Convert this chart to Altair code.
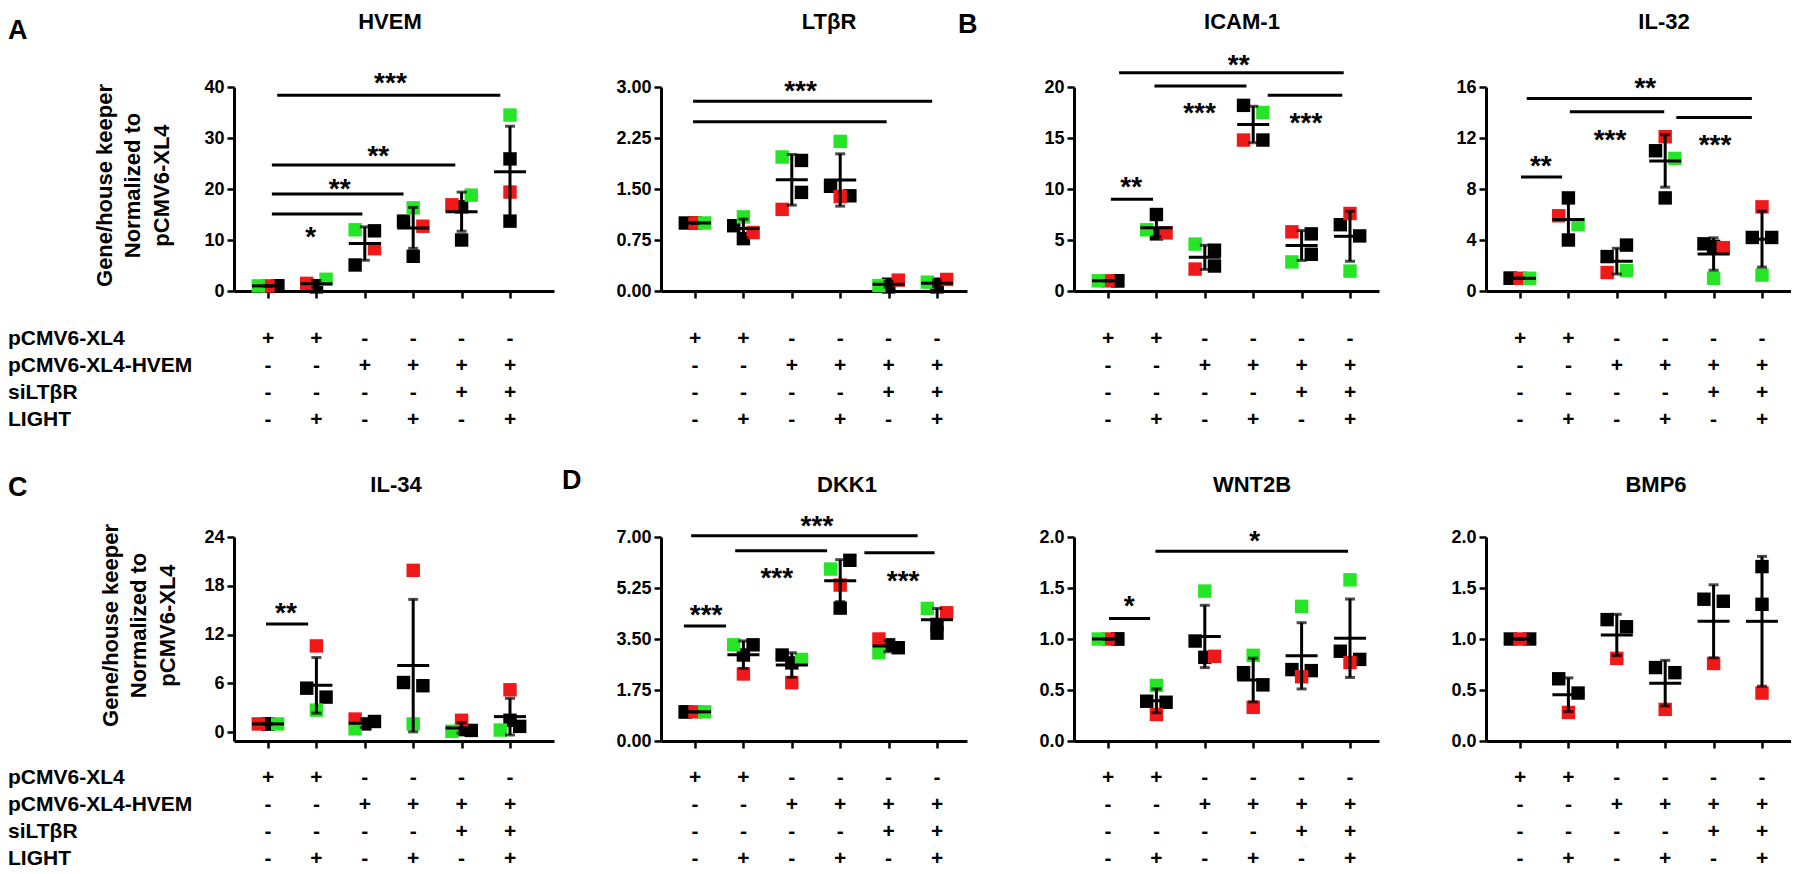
import altair as alt
import pandas as pd

# ---------------------------------------------------------------- data
GENES = ["HVEM", "LTβR", "ICAM-1", "IL-32", "IL-34", "DKK1", "WNT2B", "BMP6"]
GROUPS = [0, 1, 2, 3, 4, 5]

ROW_NAMES = ["pCMV6-XL4", "pCMV6-XL4-HVEM", "siLTβR", "LIGHT"]
PCMV = ["+", "+", "-", "-", "-", "-"]
PCMV_HVEM = ["-", "-", "+", "+", "+", "+"]
SILTBR = ["-", "-", "-", "-", "+", "+"]
LIGHT = ["-", "+", "-", "+", "-", "+"]

# replicate values per group: two black, one red, one green replicate
# *_COL: column of the square inside its group (L / C / R)
HVEM_K1 = [1.0, 1.0, 11.8, 13.7, 16.5, 25.9]
HVEM_K2 = [1.0, 0.8, 5.1, 6.8, 10.0, 13.7]
HVEM_R = [1.0, 1.5, 8.3, 12.7, 16.9, 19.4]
HVEM_G = [1.0, 2.3, 12.0, 16.3, 18.8, 34.5]
HVEM_K1_COL, HVEM_K2_COL, HVEM_R_COL, HVEM_G_COL = "RCRLCC", "RCLCCC", "CLRRLC", "LRLCRC"

LTBR_K1 = [1.0, 0.96, 1.92, 1.54, 0.06, 0.06]
LTBR_K2 = [1.0, 0.77, 1.45, 1.40, 0.10, 0.10]
LTBR_R = [1.0, 0.86, 1.20, 1.39, 0.16, 0.17]
LTBR_G = [1.0, 1.09, 1.97, 2.20, 0.08, 0.13]
LTBR_K1_COL, LTBR_K2_COL, LTBR_R_COL, LTBR_G_COL = "LLRLCC", "CCRRCC", "CRLCRR", "RCLCLL"

ICAM_K1 = [1.0, 7.5, 2.45, 18.2, 5.6, 6.5]
ICAM_K2 = [1.0, 5.6, 4.0, 14.8, 3.6, 5.4]
ICAM_R = [1.0, 5.7, 2.15, 14.8, 5.8, 7.6]
ICAM_G = [1.0, 6.0, 4.6, 17.5, 2.85, 1.95]
ICAM_K1_COL, ICAM_K2_COL, ICAM_R_COL, ICAM_G_COL = "RCRLRL", "RCRRRR", "CRLLLC", "LLLRLC"

IL32_K1 = [1.0, 7.3, 2.7, 11.0, 3.7, 4.2]
IL32_K2 = [1.0, 4.0, 3.6, 7.3, 3.5, 4.2]
IL32_R = [1.0, 5.9, 1.45, 12.1, 3.4, 6.6]
IL32_G = [1.0, 5.2, 1.6, 10.4, 1.0, 1.25]
IL32_K1_COL, IL32_K2_COL, IL32_R_COL, IL32_G_COL = "LCLLLL", "LCRCCR", "CLLCRC", "RRRRCC"

IL34_K1 = [1.0, 5.4, 1.0, 6.1, 0.3, 1.45]
IL34_K2 = [1.0, 4.3, 1.3, 5.7, 0.2, 0.7]
IL34_R = [1.0, 10.6, 1.6, 19.9, 1.45, 5.2]
IL34_G = [1.0, 2.7, 0.4, 1.0, 0.1, 0.25]
IL34_K1_COL, IL34_K2_COL, IL34_R_COL, IL34_G_COL = "CLCLCC", "CRRRRR", "LCLCCC", "RCLCLL"

DKK1_K1 = [1.0, 2.95, 2.95, 6.2, 3.3, 4.0]
DKK1_K2 = [1.0, 3.3, 2.68, 4.56, 3.2, 3.7]
DKK1_R = [1.0, 2.3, 2.0, 5.35, 3.5, 4.4]
DKK1_G = [1.0, 3.3, 2.8, 5.9, 3.03, 4.55]
DKK1_K1_COL, DKK1_K2_COL, DKK1_R_COL, DKK1_G_COL = "LCLRCC", "LRCCRC", "CCCCLR", "RLRLLL"

WNT2B_K1 = [1.0, 0.39, 0.98, 0.67, 0.70, 0.88]
WNT2B_K2 = [1.0, 0.38, 0.82, 0.55, 0.69, 0.80]
WNT2B_R = [1.0, 0.26, 0.83, 0.33, 0.63, 0.77]
WNT2B_G = [1.0, 0.545, 1.47, 0.84, 1.32, 1.58]
WNT2B_K1_COL, WNT2B_K2_COL, WNT2B_R_COL, WNT2B_G_COL = "RLLLLL", "RRCRRR", "CCRCCC", "LCCCCC"

BMP6_K1 = [1.0, 0.61, 1.19, 0.72, 1.39, 1.71]
BMP6_K2 = [1.0, 0.47, 1.12, 0.67, 1.37, 1.34]
BMP6_R = [1.0, 0.28, 0.81, 0.31, 0.76, 0.47]
BMP6_K1_COL, BMP6_K2_COL, BMP6_R_COL = "LLLLLC", "RRRRRC", "CCCCCC"

# significance bars (from group, to group, height) and star labels (group, height, text)
HVEM_BARS = [(0.08, 1.95, 15.1), (0.08, 2.8, 19.0), (0.08, 3.87, 24.7), (0.19, 4.8, 38.4)]
HVEM_STARS = [(0.88, 12.0, "*"), (1.48, 21.4, "**"), (2.28, 27.8, "**"), (2.53, 42.2, "***")]
LTBR_BARS = [(-0.04, 4.9, 2.79), (-0.04, 3.96, 2.49)]
LTBR_STARS = [(2.18, 3.05, "***")]
ICAM_BARS = [(0.06, 0.93, 9.0), (0.96, 2.86, 20.1), (3.3, 4.84, 19.2), (0.23, 4.87, 21.4)]
ICAM_STARS = [(0.48, 10.9, "**"), (1.89, 18.1, "***"), (4.09, 17.2, "***"), (2.7, 22.8, "**")]
IL32_BARS = [(0.02, 0.87, 8.95), (1.03, 2.98, 14.05), (3.23, 4.79, 13.6), (0.14, 4.79, 15.1)]
IL32_STARS = [(0.43, 10.35, "**"), (1.86, 12.4, "***"), (4.03, 12.0, "***"), (2.59, 16.5, "**")]
IL34_BARS = [(-0.04, 0.83, 13.3)]
IL34_STARS = [(0.37, 15.5, "**")]
DKK1_BARS = [(-0.23, 0.64, 3.95), (-0.08, 4.6, 7.04), (0.83, 2.73, 6.53), (3.5, 4.95, 6.46)]
DKK1_STARS = [(0.23, 4.57, "***"), (2.52, 7.63, "***"), (1.69, 5.84, "***"), (4.3, 5.74, "***")]
WNT2B_BARS = [(0.02, 0.87, 1.2), (0.98, 4.96, 1.86)]
WNT2B_STARS = [(0.44, 1.39, "*"), (3.03, 2.03, "*")]

# y axes
Y_MIN = [0, 0, 0, 0, -1.1, 0, 0, 0]
Y_MAX = [40, 3, 20, 16, 24, 7, 2, 2]
Y_TICKS = [[0, 10, 20, 30, 40], [0, 0.75, 1.5, 2.25, 3], [0, 5, 10, 15, 20],
           [0, 4, 8, 12, 16], [0, 6, 12, 18, 24], [0, 1.75, 3.5, 5.25, 7],
           [0, 0.5, 1, 1.5, 2], [0, 0.5, 1, 1.5, 2]]
Y_FMT = ["d", ".2f", "d", "d", "d", ".2f", ".1f", ".1f"]
Y_TITLE = ["Gene/house keeper", "Normalized to", "pCMV6-XL4"]

SERIES = {
    "HVEM": [("K2", HVEM_K2, HVEM_K2_COL), ("K1", HVEM_K1, HVEM_K1_COL),
             ("R", HVEM_R, HVEM_R_COL), ("G", HVEM_G, HVEM_G_COL)],
    "LTβR": [("K2", LTBR_K2, LTBR_K2_COL), ("K1", LTBR_K1, LTBR_K1_COL),
             ("R", LTBR_R, LTBR_R_COL), ("G", LTBR_G, LTBR_G_COL)],
    "ICAM-1": [("K2", ICAM_K2, ICAM_K2_COL), ("K1", ICAM_K1, ICAM_K1_COL),
               ("R", ICAM_R, ICAM_R_COL), ("G", ICAM_G, ICAM_G_COL)],
    "IL-32": [("K2", IL32_K2, IL32_K2_COL), ("K1", IL32_K1, IL32_K1_COL),
              ("R", IL32_R, IL32_R_COL), ("G", IL32_G, IL32_G_COL)],
    "IL-34": [("K2", IL34_K2, IL34_K2_COL), ("K1", IL34_K1, IL34_K1_COL),
              ("R", IL34_R, IL34_R_COL), ("G", IL34_G, IL34_G_COL)],
    "DKK1": [("K2", DKK1_K2, DKK1_K2_COL), ("K1", DKK1_K1, DKK1_K1_COL),
             ("R", DKK1_R, DKK1_R_COL), ("G", DKK1_G, DKK1_G_COL)],
    "WNT2B": [("K2", WNT2B_K2, WNT2B_K2_COL), ("K1", WNT2B_K1, WNT2B_K1_COL),
              ("R", WNT2B_R, WNT2B_R_COL), ("G", WNT2B_G, WNT2B_G_COL)],
    "BMP6": [("K2", BMP6_K2, BMP6_K2_COL), ("K1", BMP6_K1, BMP6_K1_COL),
             ("R", BMP6_R, BMP6_R_COL)],
}
BARS = {"HVEM": HVEM_BARS, "LTβR": LTBR_BARS, "ICAM-1": ICAM_BARS, "IL-32": IL32_BARS,
        "IL-34": IL34_BARS, "DKK1": DKK1_BARS, "WNT2B": WNT2B_BARS, "BMP6": []}
STARS = {"HVEM": HVEM_STARS, "LTβR": LTBR_STARS, "ICAM-1": ICAM_STARS, "IL-32": IL32_STARS,
         "IL-34": IL34_STARS, "DKK1": DKK1_STARS, "WNT2B": WNT2B_STARS, "BMP6": []}

# ---------------------------------------------------------------- layout / style
FONT = "Liberation Sans"
COL_W = [320, 306, 305, 305]
PLOT_H = 204
STEP = 48.4
X_PAD = 34 / STEP
COL_OFFSET = {"L": -0.2, "C": 0.0, "R": 0.2}
TITLE_DX = [156, 168, 168, 178, 162, 186, 178, 170]
TITLE_DY = [-65, -52]
LETTERS = {0: ("A", -226, -56), 2: ("B", -116, -62), 4: ("C", -226, -49), 5: ("D", -99, -56)}
TABLE_Y = [[252, 333], [241, 322]]
YTITLE_X = [-130, -124]
YTITLE_Y = [98, 88]
COLOR_SCALE = alt.Scale(domain=["K1", "K2", "R", "G"],
                        range=["#000000", "#000000", "#f01818", "#26e426"])


def panel(i):
    gene = GENES[i]
    row, col = divmod(i, 4)
    w = COL_W[col]
    xs = alt.Scale(domain=[-X_PAD, w / STEP - X_PAD], nice=False, zero=False)
    ys = alt.Scale(domain=[Y_MIN[i], Y_MAX[i]], nice=False, zero=False)
    xaxis = alt.Axis(values=GROUPS, labels=False, tickSize=7, title=None)

    if col == 0:
        yaxis = alt.Axis(values=Y_TICKS[i], format=Y_FMT[i], tickSize=7, labelPadding=3,
                         title=Y_TITLE,
                         titleX=YTITLE_X[row], titleY=YTITLE_Y[row], titleAngle=270,
                         titleAlign="center", titleBaseline="middle", titleFontSize=22,
                         titleLineHeight=28.5, titleFontWeight="bold", titleFont=FONT)
    else:
        yaxis = alt.Axis(values=Y_TICKS[i], format=Y_FMT[i], tickSize=7, labelPadding=3,
                         title=None)

    def X(field):
        return alt.X(field, scale=xs, axis=xaxis)

    def Y(field):
        return alt.Y(field, scale=ys, axis=yaxis)

    recs = []
    for rep, vals, cols in SERIES[gene]:
        for g, (v, c) in enumerate(zip(vals, cols)):
            recs.append({"grp": g, "px": g + COL_OFFSET[c], "v": v, "rep": rep})
    pts = pd.DataFrame(recs)

    points = alt.Chart(pts).mark_square(size=180, opacity=1, strokeWidth=0).encode(
        x=X("px:Q"), y=Y("v:Q"),
        color=alt.Color("rep:N", scale=COLOR_SCALE, legend=None),
    )
    err = alt.Chart(pts).mark_errorbar(extent="stdev", orient="vertical", ticks={"size": 10},
                                       thickness=3, color="black").encode(
        x=X("grp:Q"), y=Y("v:Q"))
    mean = alt.Chart(pts).mark_tick(orient="horizontal", size=32, thickness=3, color="black").encode(
        x=X("grp:Q"), y=Y("mean(v):Q"))
    layers = [points, err, mean]
    if BARS[gene]:
        bdf = pd.DataFrame(BARS[gene], columns=["x1", "x2", "y"])
        layers.append(alt.Chart(bdf).mark_rule(strokeWidth=3, color="black").encode(
            x=X("x1:Q"), x2="x2:Q", y=Y("y:Q")))
        sdf = pd.DataFrame(STARS[gene], columns=["x", "y", "lab"])
        layers.append(alt.Chart(sdf).mark_text(fontSize=28, fontWeight="bold", baseline="alphabetic",
                                               dy=16, color="black").encode(
            x=X("x:Q"), y=Y("y:Q"), text="lab:N"))
    data_layer = alt.layer(*layers)

    # condition table
    trecs = []
    for name, signs in zip(ROW_NAMES, [PCMV, PCMV_HVEM, SILTBR, LIGHT]):
        for g, s in zip(GROUPS, signs):
            trecs.append({"grp": g, "row": name, "sign": s})
    tdf = pd.DataFrame(trecs)
    tys = alt.Scale(type="point", domain=ROW_NAMES, range=TABLE_Y[row], padding=0)
    tlayers = [alt.Chart(tdf).mark_text(fontSize=21, fontWeight="bold", baseline="middle",
                                        color="black").encode(
        x=X("grp:Q"),
        y=alt.Y("row:N", scale=tys, axis=None), text="sign:N")]
    if col == 0:
        ldf = pd.DataFrame({"row": ROW_NAMES})
        tlayers.append(alt.Chart(ldf).mark_text(fontSize=21, fontWeight="bold", baseline="middle",
                                                align="left", color="black").encode(
            x=alt.value(-226), y=alt.Y("row:N", scale=tys, axis=None), text="row:N"))
    table_layer = alt.layer(*tlayers)

    annot = [alt.Chart(pd.DataFrame({"t": [gene]})).mark_text(
        fontSize=22, fontWeight="bold", baseline="middle", align="center", color="black").encode(
        text="t:N", x=alt.value(TITLE_DX[i]), y=alt.value(TITLE_DY[row]))]
    if i in LETTERS:
        letter, lx, ly = LETTERS[i]
        annot.append(alt.Chart(pd.DataFrame({"t": [letter]})).mark_text(
            fontSize=27, fontWeight="bold", baseline="middle", align="left", color="black").encode(
            text="t:N", x=alt.value(lx), y=alt.value(ly)))

    return alt.layer(data_layer, table_layer, *annot).resolve_scale(y="independent").properties(
        width=w, height=PLOT_H)


chart = alt.concat(*[panel(i) for i in range(8)], columns=4,
                   spacing={"row": 246, "column": 107}, bounds="flush").properties(
    padding={"top": 3, "left": 0, "right": 0, "bottom": 0})
chart = chart.configure(font=FONT).configure_view(stroke=None).configure_axis(
    grid=False, domainWidth=3, domainColor="black", tickWidth=2.5, tickColor="black",
    labelFont=FONT, labelFontWeight="bold", labelFontSize=18, labelColor="black",
    titleColor="black")

chart.save("out.html", embed_options={"renderer": "svg", "actions": False})
